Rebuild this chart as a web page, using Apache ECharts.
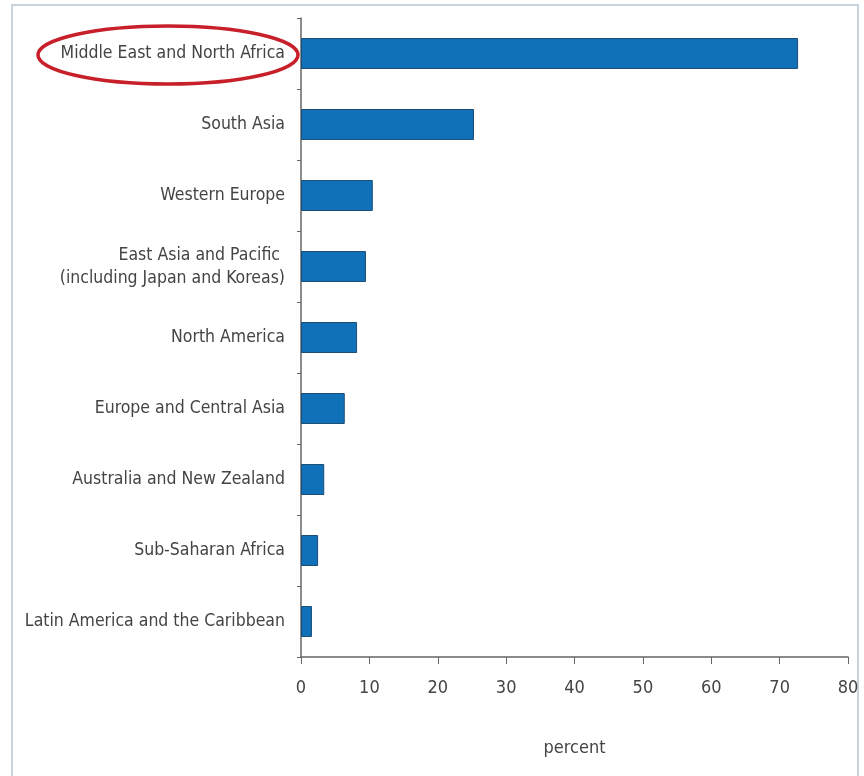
<!DOCTYPE html>
<html>
<head>
<meta charset="utf-8">
<script src="https://cdn.jsdelivr.net/npm/echarts@6/dist/echarts.min.js"></script>
<style>
  html, body { margin: 0; padding: 0; background: #fff; }
  #chart { width: 864px; height: 776px; }
</style>
</head>
<body>
<div id="chart"></div>
<script>
// regions, top to bottom
var regions = [
  'Middle East and North Africa',
  'South Asia',
  'Western Europe',
  'East Asia and Pacific \n(including Japan and Koreas)',
  'North America',
  'Europe and Central Asia',
  'Australia and New Zealand',
  'Sub-Saharan Africa',
  'Latin America and the Caribbean'
]
var share = [72.7, 25.3, 10.5, 9.5, 8.2, 6.4, 3.4, 2.5, 1.6]
var xTicks = [0, 80, 10]

var font = '"Liberation Sans Narrow", "DejaVu Sans Condensed", sans-serif'
var chart = echarts.init(document.getElementById('chart'))
var option = {
  animation: false,
  textStyle: { fontFamily: font },
  grid: { left: 301, right: 16, top: 18, bottom: 119 },
  xAxis: {
    type: 'value',
    min: xTicks[0],
    max: xTicks[1],
    interval: xTicks[2],
    name: 'percent',
    nameLocation: 'middle',
    nameGap: 82,
    nameTextStyle: { fontSize: 18, color: '#444', fontFamily: font },
    axisLine: { show: true, lineStyle: { color: '#666', width: 1.5 } },
    axisTick: { show: true, length: 7, lineStyle: { color: '#666' } },
    axisLabel: { fontSize: 18, color: '#444', margin: 22, fontFamily: font },
    splitLine: { show: false }
  },
  yAxis: {
    type: 'category',
    inverse: true,
    data: regions,
    axisLine: { show: true, lineStyle: { color: '#666', width: 1.5 } },
    axisTick: { show: true, length: 4, lineStyle: { color: '#666' } },
    axisLabel: { fontSize: 17.5, color: '#444', margin: 16, lineHeight: 23, fontFamily: font }
  },
  series: [{
    type: 'bar',
    data: share,
    barWidth: 31,
    itemStyle: { color: '#1070b8', borderColor: '#1d4e78', borderWidth: 1 }
  }],
  graphic: [
    {
      type: 'rect',
      shape: { x: 12, y: 5, width: 846, height: 775 },
      style: { fill: 'none', stroke: '#c9d3dc', lineWidth: 2 }
    },
    {
      type: 'ellipse',
      shape: { cx: 168, cy: 55, rx: 130, ry: 29 },
      style: { fill: 'none', stroke: '#c8202a', lineWidth: 3.5 }
    }
  ]
}
chart.setOption(option)
window.addEventListener('resize', function () {
  chart.resize()
})
</script>
</body>
</html>
